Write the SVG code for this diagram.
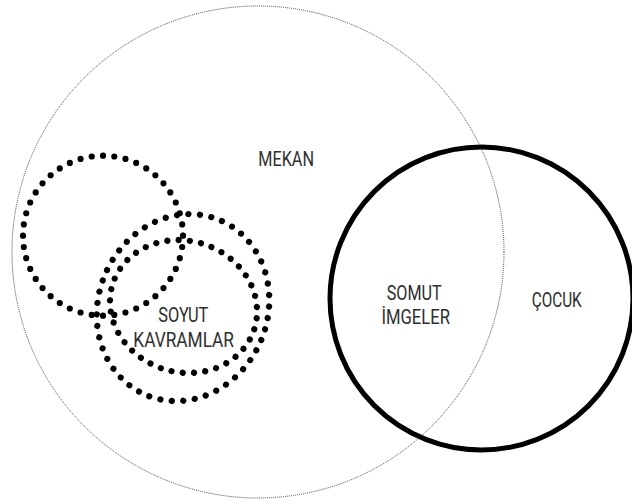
<svg xmlns="http://www.w3.org/2000/svg" width="632" height="504" viewBox="0 0 632 504">
  <style>
    .lbl { font-family: Roboto, "Liberation Sans", sans-serif; font-size: 21px; fill: #2e2e2e; }
    .dotted { fill: none; stroke: #000000; stroke-width: 6.2; stroke-linecap: round; stroke-dasharray: 0 1; }
  </style>
  <rect width="632" height="504" fill="#ffffff"/>
  <g id="mekan">
    <circle cx="258" cy="252" r="246" fill="none" stroke="#444444" stroke-width="1" stroke-dasharray="1 1"/>
    <text class="lbl" x="258.3" y="166" textLength="55.7" lengthAdjust="spacingAndGlyphs">MEKAN</text>
  </g>
  <g id="cocuk">
    <circle cx="481.5" cy="298.5" r="151.5" fill="none" stroke="#000000" stroke-width="5"/>
    <text class="lbl" x="531.7" y="306.7" textLength="50" lengthAdjust="spacingAndGlyphs">ÇOCUK</text>
  </g>
  <g id="somut-imgeler">
    <text class="lbl" x="386.7" y="300" textLength="55" lengthAdjust="spacingAndGlyphs">SOMUT</text>
    <text class="lbl" x="381.5" y="323.5" textLength="68.5" lengthAdjust="spacingAndGlyphs">İMGELER</text>
  </g>
  <g id="soyut-kavramlar">
    <ellipse class="dotted" cx="103" cy="235.7" rx="80" ry="80" pathLength="44"/>
    <ellipse class="dotted" cx="183" cy="307.6" rx="84.7" ry="94.9" pathLength="49" transform="rotate(22.5 183 307.6)"/>
    <ellipse class="dotted" cx="183.5" cy="306.5" rx="74.3" ry="65.6" pathLength="39" transform="rotate(17.8 183.5 306.5)"/>
    <text class="lbl" x="158.3" y="321.7" textLength="50" lengthAdjust="spacingAndGlyphs">SOYUT</text>
    <text class="lbl" x="133.3" y="346.5" textLength="100.7" lengthAdjust="spacingAndGlyphs">KAVRAMLAR</text>
  </g>
  <g id="connectors"/>
</svg>
